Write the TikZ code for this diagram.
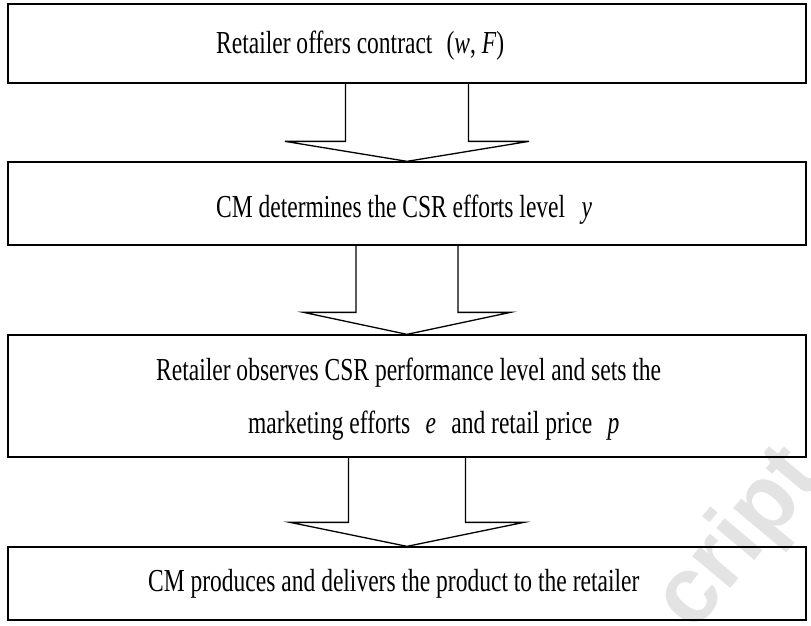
\documentclass[tikz,border=0pt]{standalone}
\usepackage{fontspec}
\setmainfont{Liberation Serif}
\newfontfamily\wmfont{Liberation Sans}
\usetikzlibrary{calc}
\newcommand\blkarrow[5]{%
  \draw[arrowline] ($(#1.south)+(-#3,0)$) -- ($(#2.north)+(-#3,#5)$) -- ($(#2.north)+(-#4,#5)$) -- (#2.north)
    -- ($(#2.north)+(#4,#5)$) -- ($(#2.north)+(#3,#5)$) -- ($(#1.south)+(#3,0)$);}
\begin{document}
\begin{tikzpicture}[x=1pt,y=-1pt,
  stagebox/.style={draw=black, line width=1.3pt, rectangle, minimum width=798pt, inner sep=0pt},
  arrowline/.style={draw=black, line width=1.3pt, line join=miter},
  lbl/.style={inner sep=0pt, anchor=base west, xscale=0.735, font=\fontsize{32}{36}\selectfont},
  wm/.style={text=black!11, font=\wmfont\bfseries\fontsize{94}{94}\selectfont, rotate=50, inner sep=0pt, anchor=base west}]
\useasboundingbox (0,0) rectangle (811,626);
\begin{scope}
\clip (0,0) rectangle (811,626);
\node[wm] (wmark) at (693,634) {cript};
\end{scope}
\node[stagebox, minimum height=79pt] (b1) at (407,43.5) {};
\node[stagebox, minimum height=83pt] (b2) at (407,203.5) {};
\node[stagebox, minimum height=122pt] (b3) at (407,396) {};
\node[stagebox, minimum height=73pt] (b4) at (407,583.5) {};
\node[lbl] (t1) at (216,53) {Retailer offers contract\hspace{0.6em}(\textit{w}, \textit{F})};
\node[lbl] (t2) at (216,217) {CM determines the CSR efforts level\hspace{0.7em}\textit{y}};
\node[lbl] (t3a) at (156,380) {Retailer observes CSR performance level and sets the};
\node[lbl] (t3b) at (248,433) {marketing efforts\hspace{0.65em}\textit{e}\hspace{0.65em}and retail price\hspace{0.65em}\textit{p}};
\node[lbl] (t4) at (148,591) {CM produces and delivers the product to the retailer};
\blkarrow{b1}{b2}{61.5}{122}{-20}
\blkarrow{b2}{b3}{51}{103.5}{-22}
\blkarrow{b3}{b4}{58.5}{117}{-24}
\end{tikzpicture}
\end{document}
